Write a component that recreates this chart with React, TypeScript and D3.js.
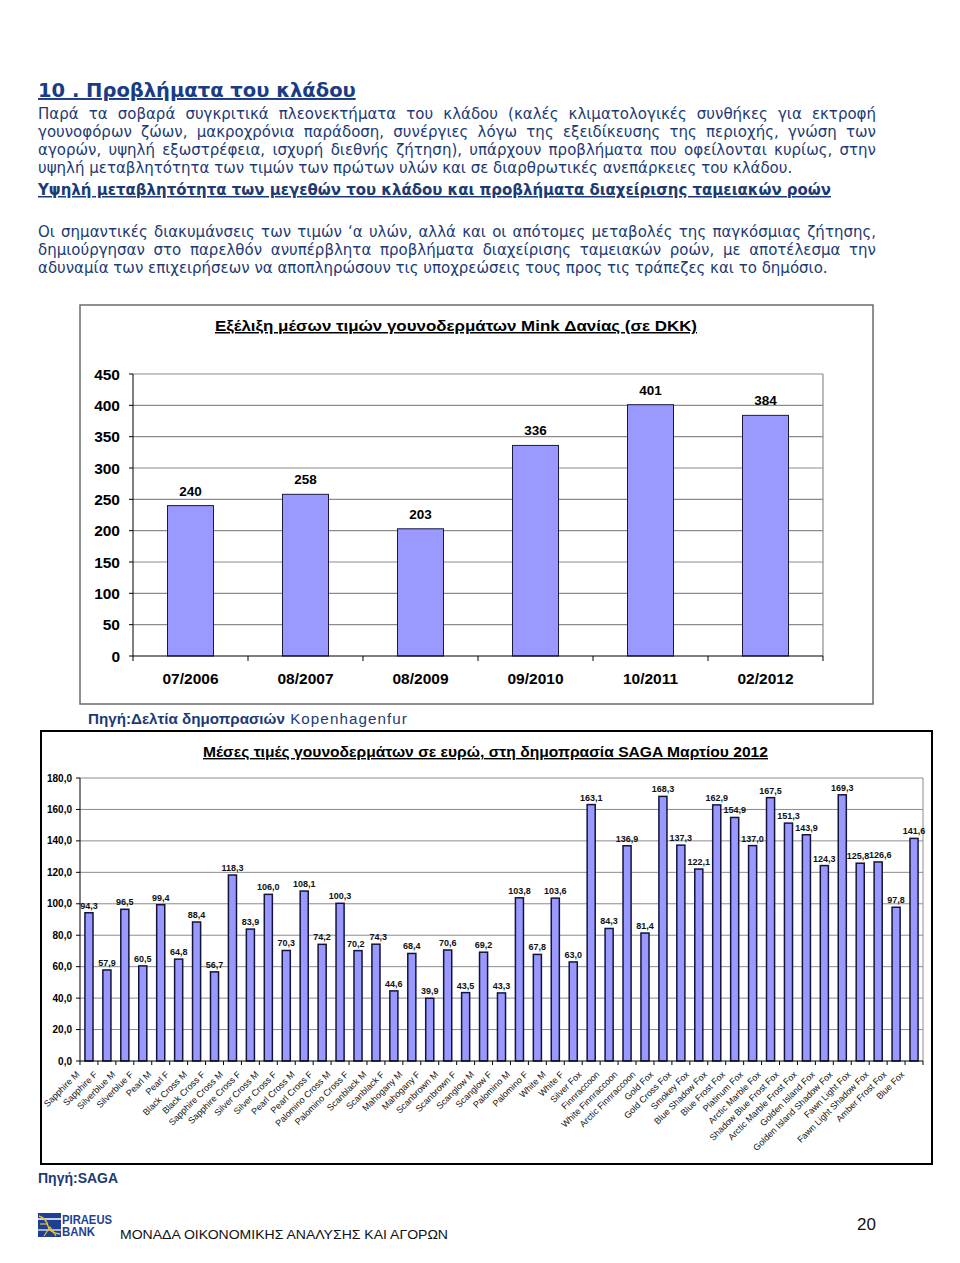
import React from "react";
import * as d3 from "d3";

// ---------- DATA ----------
const minkDates = ["07/2006", "08/2007", "08/2009", "09/2010", "10/2011", "02/2012"];
const minkPrices = [240, 258, 203, 336, 401, 384];
const minkTicks = [0, 50, 100, 150, 200, 250, 300, 350, 400, 450];

const sagaCategories = [
  "Sapphire M", "Sapphire F", "Silverblue M", "Silverblue F", "Pearl M", "Pearl F",
  "Black Cross M", "Black Cross F", "Sapphire Cross M", "Sapphire Cross F",
  "Silver Cross M", "Silver Cross F", "Pearl Cross M", "Pearl Cross F",
  "Palomino Cross M", "Palomino Cross F", "Scanblack M", "Scanblack F",
  "Mahogany M", "Mahogany F", "Scanbrown M", "Scanbrown F", "Scanglow M", "Scanglow F",
  "Palomino M", "Palomino F", "White M", "White F", "Silver Fox", "Finnraccoon",
  "White Finnraccoon", "Arctic Finnraccoon", "Gold Fox", "Gold Cross Fox", "Smokey Fox",
  "Blue Shadow Fox", "Blue Frost Fox", "Platinum Fox", "Arctic Marble Fox",
  "Shadow Blue Frost Fox", "Arctic Marble Frost Fox", "Golden Island Fox",
  "Golden Island Shadow Fox", "Fawn Light Fox", "Fawn Light Shadow Fox",
  "Amber Frost Fox", "Blue Fox",
];
const sagaPrices = [
  94.3, 57.9, 96.5, 60.5, 99.4, 64.8, 88.4, 56.7, 118.3, 83.9,
  106.0, 70.3, 108.1, 74.2, 100.3, 70.2, 74.3, 44.6, 68.4, 39.9,
  70.6, 43.5, 69.2, 43.3, 103.8, 67.8, 103.6, 63.0, 163.1, 84.3,
  136.9, 81.4, 168.3, 137.3, 122.1, 162.9, 154.9, 137.0, 167.5, 151.3,
  143.9, 124.3, 169.3, 125.8, 126.6, 97.8, 141.6,
];
const sagaTicks = [0, 20, 40, 60, 80, 100, 120, 140, 160, 180];

const heading = "10 . Προβλήματα του κλάδου";
const para1 = [
  "Παρά τα σοβαρά συγκριτικά πλεονεκτήματα του κλάδου (καλές κλιματολογικές συνθήκες για εκτροφή",
  "γουνοφόρων ζώων, μακροχρόνια παράδοση, συνέργιες λόγω της εξειδίκευσης της περιοχής, γνώση των",
  "αγορών, υψηλή εξωστρέφεια, ισχυρή διεθνής ζήτηση), υπάρχουν προβλήματα που οφείλονται κυρίως, στην",
  "υψηλή μεταβλητότητα των τιμών των πρώτων υλών και σε διαρθρωτικές ανεπάρκειες του κλάδου.",
];
const subHeading = "Υψηλή μεταβλητότητα των μεγεθών του κλάδου και προβλήματα διαχείρισης ταμειακών ροών";
const para2 = [
  "Οι σημαντικές διακυμάνσεις των τιμών ‘α υλών, αλλά και οι απότομες μεταβολές της παγκόσμιας ζήτησης,",
  "δημιούργησαν στο παρελθόν ανυπέρβλητα προβλήματα διαχείρισης ταμειακών ροών, με αποτέλεσμα την",
  "αδυναμία των επιχειρήσεων να αποπληρώσουν τις υποχρεώσεις τους προς τις τράπεζες και το δημόσιο.",
];
const chart1Title = "Εξέλιξη μέσων τιμών γουνοδερμάτων Mink Δανίας (σε DKK)";
const chart1Source = "Πηγή:Δελτία δημοπρασιών";
const chart1SourceB = "Kopenhagenfur";
const chart2Title = "Μέσες τιμές γουνοδερμάτων σε ευρώ, στη δημοπρασία SAGA Μαρτίου 2012";
const chart2Source = "Πηγή:SAGA";
const footerText = "ΜΟΝΑΔΑ ΟΙΚΟΝΟΜΙΚΗΣ ΑΝΑΛΥΣΗΣ ΚΑΙ ΑΓΟΡΩΝ";
const pageNo = "20";

// ---------- helpers ----------
const BODY_FONT = "'DejaVu Sans', Verdana, sans-serif";
const ARIAL = "'Liberation Sans', Arial, sans-serif";
const NAVY = "#1c3a74";

let _ctx: CanvasRenderingContext2D | null = null;
function measure(text: string, font: string): number {
  if (!_ctx) _ctx = document.createElement("canvas").getContext("2d");
  if (!_ctx) return text.length * 8;
  _ctx.font = font;
  return _ctx.measureText(text).width;
}

const TEXT_LEFT = 38;
const TEXT_RIGHT = 876;
const TEXT_W = TEXT_RIGHT - TEXT_LEFT;

// body font calibrated so that the last (unjustified) line of para 1 spans like the original
const bodySize = (() => {
  const w = measure(para1[3], `14px ${BODY_FONT}`);
  const s = 14 * 759 / w;
  return Math.max(12.5, Math.min(15, s));
})();

function JustLine({ text, y, justify }: { text: string; y: number; justify: boolean }) {
  const font = `${bodySize}px ${BODY_FONT}`;
  const nat = measure(text, font);
  const spaces = (text.match(/ /g) || []).length;
  const ws = justify && spaces > 0 ? Math.max(0, (TEXT_W - nat) / spaces) : 0;
  return (
    <text x={TEXT_LEFT} y={y} fontFamily={BODY_FONT} fontSize={bodySize} fill={NAVY}
      wordSpacing={ws}>
      {text}
    </text>
  );
}

const fmt1 = d3.formatLocale({ decimal: ",", thousands: ".", grouping: [3], currency: ["", "€"] }).format(".1f");

// ---------- chart 1 ----------
function MinkChart() {
  const left = 133, right = 823, top = 374, bottom = 656;
  const x = d3.scaleBand<string>().domain(minkDates).range([left, right]).paddingInner(0.6).paddingOuter(0.3);
  const y = d3.scaleLinear().domain([0, 450]).range([bottom, top]);
  const step = x.step();
  const boundaries = d3.range(minkDates.length + 1).map((i) => left + i * step);
  return (
    <g>
      <rect x={80} y={305} width={793} height={399} fill="#fff" stroke="#6b6b6b" strokeWidth={1.5} />
      <text x={456} y={331} textAnchor="middle" fontFamily={ARIAL} fontWeight="bold" fontSize={15}
        textDecoration="underline" fill="#000" textLength={482} lengthAdjust="spacingAndGlyphs">
        {chart1Title}
      </text>
      {minkTicks.map((t) => (
        <g key={t}>
          {t > 0 && <line x1={left} x2={right} y1={y(t)} y2={y(t)} stroke="#8c8c8c" strokeWidth={1.2} />}
          <line x1={left - 4} x2={left} y1={y(t)} y2={y(t)} stroke="#000" strokeWidth={1} />
          <text x={120} y={y(t)} dy="0.36em" textAnchor="end" fontFamily={ARIAL} fontWeight="bold"
            fontSize={15.5} fill="#000">{t}</text>
        </g>
      ))}
      <line x1={right} x2={right} y1={top} y2={bottom} stroke="#8c8c8c" strokeWidth={1.2} />
      {minkDates.map((d, i) => (
        <g key={d}>
          <rect x={x(d)} y={y(minkPrices[i])} width={x.bandwidth()} height={bottom - y(minkPrices[i])}
            fill="#9999ff" stroke="#1a1a40" strokeWidth={1} />
          <text x={(x(d) as number) + x.bandwidth() / 2} y={y(minkPrices[i]) - 10} textAnchor="middle"
            fontFamily={ARIAL} fontWeight="bold" fontSize={13.5} fill="#000">{minkPrices[i]}</text>
          <text x={(x(d) as number) + x.bandwidth() / 2} y={684} textAnchor="middle"
            fontFamily={ARIAL} fontWeight="bold" fontSize={15.5} fill="#000">{d}</text>
        </g>
      ))}
      <line x1={left} x2={left} y1={top} y2={bottom} stroke="#000" strokeWidth={1} />
      <line x1={left} x2={right} y1={bottom} y2={bottom} stroke="#000" strokeWidth={1.2} />
      {boundaries.map((b, i) => (
        <line key={i} x1={b} x2={b} y1={bottom} y2={bottom + 5} stroke="#000" strokeWidth={1} />
      ))}
      <text x={88} y={724} fontFamily={ARIAL} fontSize={14} fill={NAVY} textLength={320} lengthAdjust="spacingAndGlyphs">
        <tspan fontWeight="bold">{chart1Source}</tspan>
        <tspan letterSpacing={1}>{" " + chart1SourceB}</tspan>
      </text>
    </g>
  );
}

// ---------- chart 2 ----------
function SagaChart() {
  const left = 80, right = 923, top = 778, bottom = 1061;
  const x = d3.scaleBand<string>().domain(sagaCategories).range([left, right]).paddingInner(0.55).paddingOuter(0.275);
  const y = d3.scaleLinear().domain([0, 180]).range([bottom, top]);
  const step = x.step();
  const boundaries = d3.range(sagaCategories.length + 1).map((i) => left + i * step);
  // nudge neighbouring value labels apart when they sit at almost the same height
  const nudges = sagaPrices.map(() => 0);
  for (let i = 0; i < sagaPrices.length - 1; i++) {
    if (Math.abs(y(sagaPrices[i]) - y(sagaPrices[i + 1])) < 10) {
      nudges[i] -= 2.2;
      nudges[i + 1] += 2.2;
    }
  }
  return (
    <g>
      <rect x={41} y={731} width={891} height={433} fill="#fff" stroke="#000" strokeWidth={2} />
      <text x={485.5} y={757} textAnchor="middle" fontFamily={ARIAL} fontWeight="bold" fontSize={14}
        textDecoration="underline" fill="#000" textLength={565} lengthAdjust="spacingAndGlyphs">
        {chart2Title}
      </text>
      {sagaTicks.map((t) => (
        <g key={t}>
          {t > 0 && <line x1={left} x2={right} y1={y(t)} y2={y(t)} stroke="#8c8c8c" strokeWidth={1} />}
          <line x1={left - 4} x2={left} y1={y(t)} y2={y(t)} stroke="#000" strokeWidth={1} />
          <text x={72} y={y(t)} dy="0.36em" textAnchor="end" fontFamily={ARIAL} fontWeight="bold"
            fontSize={10} fill="#000">{fmt1(t)}</text>
        </g>
      ))}
      <line x1={right} x2={right} y1={top} y2={bottom} stroke="#8c8c8c" strokeWidth={1} />
      {sagaCategories.map((c, i) => {
        const bx = x(c) as number;
        const cx = bx + x.bandwidth() / 2;
        const v = sagaPrices[i];
        return (
          <g key={c}>
            <rect x={bx} y={y(v)} width={x.bandwidth()} height={bottom - y(v)} fill="#9999ff"
              stroke="#14143a" strokeWidth={1.5} />
            <text x={cx + nudges[i]} y={y(v) - 4} textAnchor="middle" fontFamily={ARIAL} fontWeight="bold"
              fontSize={9} fill="#111">{fmt1(v)}</text>
            <text transform={`translate(${cx - 9},${1075}) rotate(-45)`} textAnchor="end"
              fontFamily={ARIAL} fontSize={9} fill="#111">{c}</text>
          </g>
        );
      })}
      <line x1={left} x2={left} y1={top} y2={bottom} stroke="#000" strokeWidth={1} />
      <line x1={left} x2={right} y1={bottom} y2={bottom} stroke="#000" strokeWidth={1} />
      {boundaries.map((b, i) => (
        <line key={i} x1={b} x2={b} y1={bottom} y2={bottom + 4} stroke="#000" strokeWidth={1} />
      ))}
      <text x={38} y={1183} fontFamily={ARIAL} fontWeight="bold" fontSize={14} fill={NAVY}>{chart2Source}</text>
    </g>
  );
}

function Logo() {
  return (
    <g>
      <rect x={38} y={1213} width={23} height={24} fill="#1f3f93" />
      <line x1={38} x2={61} y1={1219} y2={1219} stroke="#fff" strokeWidth={1.5} />
      <line x1={38} x2={61} y1={1230} y2={1230} stroke="#fff" strokeWidth={1.2} />
      <path d="M39,1216 Q46,1218 48,1226 Q50,1233 60,1234" fill="none" stroke="#e8c23a" strokeWidth={1.4} />
      <path d="M44,1236 L50,1227 L56,1236" fill="none" stroke="#e8c23a" strokeWidth={1.2} />
      <path d="M40,1224 L47,1224" stroke="#e8c23a" strokeWidth={1.2} />
      <text x={62} y={1224} fontFamily={ARIAL} fontWeight="bold" fontSize={12} fill="#1f3f93"
        textLength={50} lengthAdjust="spacingAndGlyphs">PIRAEUS</text>
      <text x={62} y={1236} fontFamily={ARIAL} fontWeight="bold" fontSize={12} fill="#1f3f93"
        textLength={33} lengthAdjust="spacingAndGlyphs">BANK</text>
    </g>
  );
}

export default function App() {
  const p1y = [119, 137, 155, 173];
  const p2y = [237, 255, 273];
  return (
    <svg width={960} height={1263} viewBox="0 0 960 1263"
      style={{ position: "absolute", left: 0, top: 0, background: "#fff" }}>
      <rect x={0} y={0} width={960} height={1263} fill="#fff" />
      <text x={TEXT_LEFT} y={97} fontFamily={BODY_FONT} fontWeight="bold" fontSize={19.5} fill="#1a3c86"
        textDecoration="underline">{heading}</text>
      {para1.map((l, i) => (
        <JustLine key={"a" + i} text={l} y={p1y[i]} justify={i < para1.length - 1} />
      ))}
      <text x={TEXT_LEFT} y={195} fontFamily={BODY_FONT} fontWeight="bold" fontSize={bodySize} fill={NAVY}
        textDecoration="underline" textLength={793} lengthAdjust="spacingAndGlyphs">{subHeading}</text>
      {para2.map((l, i) => (
        <JustLine key={"b" + i} text={l} y={p2y[i]} justify={i < para2.length - 1} />
      ))}
      <MinkChart />
      <SagaChart />
      <Logo />
      <text x={120} y={1239} fontFamily={ARIAL} fontSize={13} fill="#111" textLength={328}
        lengthAdjust="spacingAndGlyphs">{footerText}</text>
      <text x={876} y={1230} textAnchor="end" fontFamily={ARIAL} fontSize={17} fill="#111">{pageNo}</text>
    </svg>
  );
}
